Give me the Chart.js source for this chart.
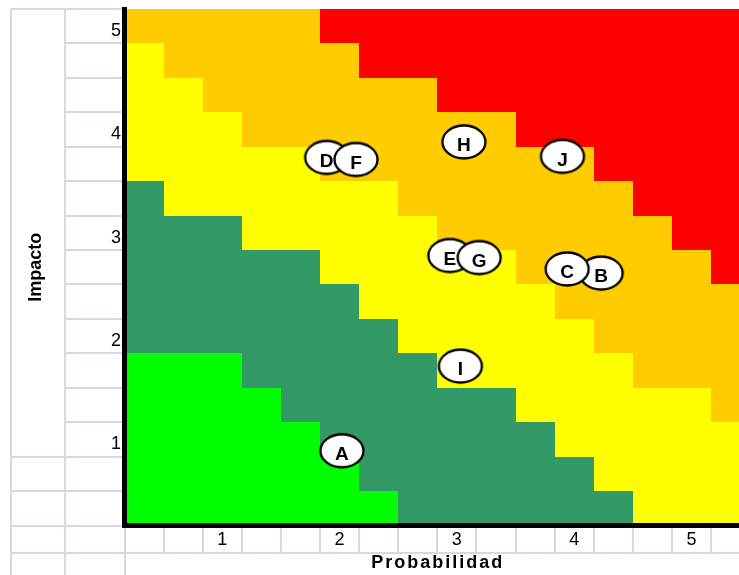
<!DOCTYPE html>
<html><head><meta charset="utf-8">
<script src="https://cdn.jsdelivr.net/npm/chart.js@4"></script>
<style>html,body{margin:0;padding:0;background:#fff;}canvas{display:block;}</style>
</head><body>
<canvas id="c" width="739" height="575"></canvas>
<script>
// ---- data ----
const probTicks = [1, 2, 3, 4, 5];
const impactTicks = [1, 2, 3, 4, 5];
const riskLabels = ['D', 'F', 'E', 'G', 'B', 'C', 'H', 'J', 'I', 'A'];
const riskProb   = [1.89, 2.14, 2.94, 3.19, 4.23, 3.94, 3.06, 3.90, 3.03, 2.02];
const riskImpact = [3.73, 3.71, 2.78, 2.76, 2.61, 2.65, 3.88, 3.74, 1.71, 0.89];
// zone codes per cell row (top to bottom), one char per cell column (left to right)
const zoneRows = [
  'OOOOORRRRRRRRRRR',
  'YOOOOORRRRRRRRRR',
  'YYOOOOOORRRRRRRR',
  'YYYOOOOOOORRRRRR',
  'YYYYYOOOOOOORRRR',
  'GYYYYYYOOOOOORRR',
  'GGGYYYYYOOOOOORR',
  'GGGGGYYYYYOOOOOR',
  'GGGGGGYYYYYOOOOO',
  'GGGGGGGYYYYYOOOO',
  'BBBGGGGGYYYYYOOO',
  'BBBBGGGGGGYYYYYO',
  'BBBBBGGGGGGYYYYY',
  'BBBBBBGGGGGGYYYY',
  'BBBBBBBGGGGGGYYY'
];
const zoneColors = { B: '#00FF00', G: '#339966', Y: '#FFFF00', O: '#FFCC00', R: '#FF0000' };
const axisMin = 1 / 6, cellStep = 1 / 3;
const probMax = 5.405, impactMax = 31 / 6;

// ---- styling / layout ----
const FONT = "'Liberation Sans', Arial, sans-serif";
Chart.defaults.font.family = FONT;
const GRID_COLOR = '#d3dae6';
const SHEET_COL1 = 11, SHEET_COL2 = 65, LABEL_ROW_H = 27;
const X_TITLE_SHIFT = 6, X_TITLE_SPACING = '2px';

function ellipseImage() {
  const cv = document.createElement('canvas');
  cv.width = 48; cv.height = 38;
  const g = cv.getContext('2d');
  g.beginPath();
  g.ellipse(24, 19, 21.5, 16.5, 0, 0, Math.PI * 2);
  g.fillStyle = '#fff'; g.fill();
  g.lineWidth = 2.3; g.strokeStyle = '#000'; g.stroke();
  return cv;
}

const zonePlugin = {
  id: 'zones',
  beforeDraw(chart) {
    const { ctx, chartArea: a, scales: { x, y } } = chart;
    // widen the x-axis title like the spreadsheet rendering
    if (!x._spacedTitle) {
      const orig = x.drawTitle;
      x.drawTitle = function () {
        const c = this.ctx;
        c.save();
        c.letterSpacing = X_TITLE_SPACING;
        c.translate(X_TITLE_SHIFT, 0);
        orig.call(this);
        c.restore();
      };
      x._spacedTitle = true;
    }
    ctx.save();
    ctx.fillStyle = '#fff';
    ctx.fillRect(0, 0, chart.width, chart.height);
    // spreadsheet grid around the chart
    ctx.strokeStyle = GRID_COLOR; ctx.lineWidth = 2;
    const line = (x0, y0, x1, y1) => { ctx.beginPath(); ctx.moveTo(x0, y0); ctx.lineTo(x1, y1); ctx.stroke(); };
    const top = Math.round(a.top), bot = Math.round(a.bottom), left = Math.round(a.left);
    line(SHEET_COL1, top, SHEET_COL1, chart.height);
    line(SHEET_COL2, top, SHEET_COL2, chart.height);
    line(left, bot, left, chart.height);
    line(SHEET_COL1, top, left, top);
    for (let k = 1; k < zoneRows.length; k++) {
      const yy = Math.round(y.getPixelForValue(impactMax - k * cellStep));
      line(k >= zoneRows.length - 2 ? SHEET_COL1 : SHEET_COL2, yy, left, yy);
    }
    line(SHEET_COL1, bot, left, bot);
    line(SHEET_COL1, bot + LABEL_ROW_H, a.right, bot + LABEL_ROW_H);
    for (let k = 1; k <= zoneRows[0].length; k++) {
      const xx = Math.round(x.getPixelForValue(axisMin + k * cellStep));
      if (xx < a.right) line(xx, bot, xx, bot + LABEL_ROW_H);
    }
    // zone cells
    ctx.beginPath();
    ctx.rect(a.left, a.top, a.right - a.left, a.bottom - a.top);
    ctx.clip();
    zoneRows.forEach((row, r) => {
      [...row].forEach((code, c) => {
        const x0 = Math.round(x.getPixelForValue(axisMin + c * cellStep));
        const x1 = Math.round(x.getPixelForValue(axisMin + (c + 1) * cellStep));
        const y0 = Math.round(y.getPixelForValue(impactMax - r * cellStep));
        const y1 = Math.round(y.getPixelForValue(impactMax - (r + 1) * cellStep));
        ctx.fillStyle = zoneColors[code];
        ctx.fillRect(x0, y0, x1 - x0, y1 - y0);
      });
    });
    ctx.restore();
  }
};

const letterPlugin = {
  id: 'letters',
  afterDatasetsDraw(chart) {
    const ctx = chart.ctx;
    const meta = chart.getDatasetMeta(0);
    ctx.save();
    ctx.font = 'bold 19px ' + FONT;
    ctx.fillStyle = '#000';
    ctx.textAlign = 'center';
    ctx.textBaseline = 'middle';
    meta.data.forEach((pt, i) => ctx.fillText(riskLabels[i], pt.x, pt.y + 4));
    ctx.restore();
  }
};

new Chart(document.getElementById('c'), {
  type: 'scatter',
  data: {
    datasets: [{
      data: riskProb.map((p, i) => ({ x: p, y: riskImpact[i] })),
      pointStyle: ellipseImage(),
      pointRadius: 20,
      pointHoverRadius: 20
    }]
  },
  options: {
    responsive: false,
    animation: false,
    devicePixelRatio: 1,
    events: [],
    layout: { autoPadding: false, padding: { top: 9, right: 0, bottom: 0, left: 0 } },
    plugins: { legend: { display: false }, tooltip: { enabled: false } },
    scales: {
      x: {
        type: 'linear', position: 'bottom', min: axisMin, max: probMax,
        afterBuildTicks: s => { s.ticks = probTicks.map(v => ({ value: v })); },
        afterFit: s => { s.height = 49.5; s.paddingLeft = 0; s.paddingRight = 0; },
        grid: { display: false, drawTicks: false },
        border: { display: true, color: '#000', width: 5 },
        ticks: { color: '#000', font: { size: 18 }, padding: 4, maxRotation: 0, autoSkip: false, callback: v => String(v) },
        title: { display: true, text: 'Probabilidad', color: '#000', font: { size: 18, weight: 'bold' }, padding: { top: 0, bottom: 1 } }
      },
      y: {
        type: 'linear', position: 'left', min: axisMin, max: impactMax,
        afterBuildTicks: s => { s.ticks = impactTicks.map(v => ({ value: v })); },
        afterFit: s => { s.width = 124.5; s.paddingTop = 0; s.paddingBottom = 0; },
        grid: { display: false, drawTicks: false },
        border: { display: true, color: '#000', width: 5 },
        ticks: { color: '#000', font: { size: 18 }, padding: 3.5, labelOffset: 5, autoSkip: false, callback: v => String(v) },
        title: { display: true, text: 'Impacto', color: '#000', font: { size: 18, weight: 'bold' }, padding: { top: 25, bottom: 0 } }
      }
    }
  },
  plugins: [zonePlugin, letterPlugin]
});
</script>
</body></html>
